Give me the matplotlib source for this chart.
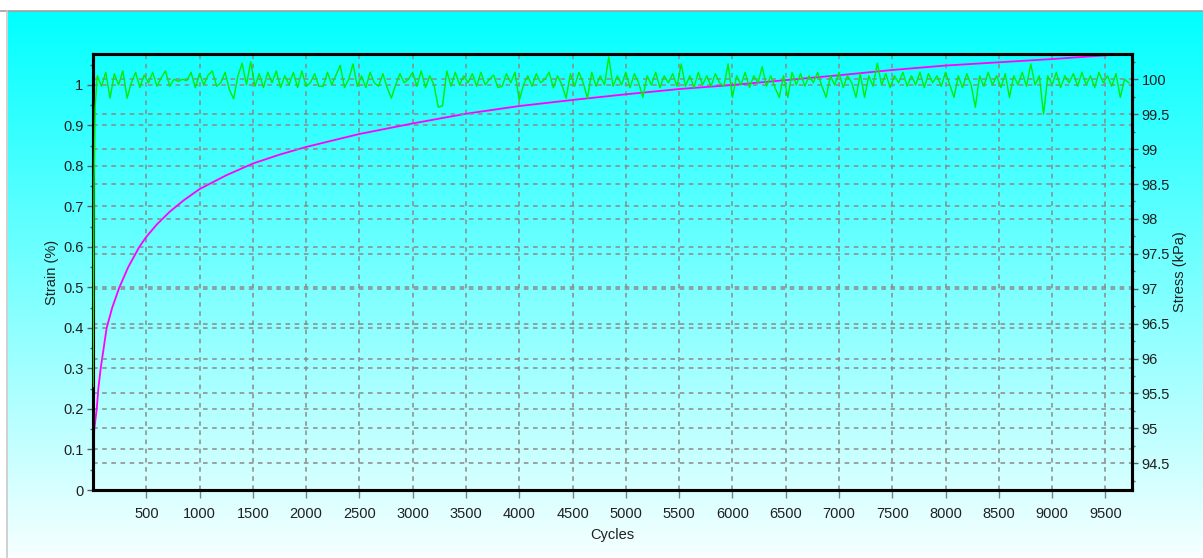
import numpy as np
import matplotlib
matplotlib.use("Agg")
import matplotlib.pyplot as plt
from matplotlib.ticker import MultipleLocator, FixedLocator
from matplotlib.lines import Line2D

# ---------------- data ----------------
strain_cycles = [1, 5, 12, 35, 50, 72, 100, 128, 180, 247, 330, 434, 500, 600, 720,
                 850, 1000, 1250, 1500, 1750, 2000, 2500, 3000, 3500, 4000, 4500,
                 5000, 5500, 6000, 6500, 7000, 7500, 8000, 8500, 9000, 9600]
strain_pct = [0.03, 0.10, 0.15, 0.20, 0.25, 0.30, 0.35, 0.40, 0.45, 0.50, 0.55, 0.60,
              0.625, 0.656, 0.687, 0.715, 0.743, 0.777, 0.806, 0.828, 0.847, 0.879,
              0.905, 0.929, 0.948, 0.963, 0.977, 0.990, 1.000, 1.012, 1.024, 1.037,
              1.048, 1.056, 1.064, 1.075]

stress_start_cycles = [1, 10, 20]
stress_start_kpa = [95.6, 98.55, 99.6]
stress_step = 40
stress_kpa = [
    100.05, 99.90, 100.10, 99.73, 100.08, 99.92, 100.12, 99.73, 99.95, 100.10,
    99.88, 100.06, 99.95, 100.10, 99.90, 100.02, 100.12, 99.90, 100.00, 99.97,
    100.00, 99.98, 100.10, 99.88, 100.08, 99.92, 100.06, 100.12, 99.90, 99.95,
    100.10, 99.85, 99.72, 100.05, 100.23, 99.92, 100.25, 99.90, 100.08, 99.88,
    100.10, 99.95, 100.12, 99.88, 100.05, 99.92, 100.10, 99.88, 100.12, 99.90,
    99.95, 100.08, 99.90, 99.90, 100.10, 99.92, 100.06, 100.20, 99.88, 100.00,
    100.22, 99.90, 100.05, 99.88, 100.10, 99.95, 99.90, 100.08, 99.88, 99.73,
    99.92, 100.08, 99.95, 100.00, 100.10, 99.90, 100.12, 99.88, 100.05, 99.92,
    99.60, 99.62, 100.12, 99.90, 100.10, 99.92, 100.05, 99.95, 100.08, 99.90,
    100.10, 99.92, 100.00, 100.06, 99.88, 99.90, 100.08, 99.95, 100.10, 99.70,
    99.92, 100.05, 99.90, 100.08, 99.95, 100.00, 100.10, 99.88, 100.05, 99.92,
    99.73, 100.08, 99.90, 100.10, 99.95, 99.73, 100.10, 99.90, 100.05, 99.92,
    100.32, 99.90, 100.05, 99.92, 100.10, 99.88, 100.08, 99.95, 99.74, 100.05,
    99.92, 100.10, 99.88, 100.05, 99.95, 100.08, 99.90, 100.22, 99.90, 100.05,
    99.88, 100.10, 99.92, 100.05, 99.90, 100.08, 99.95, 99.90, 100.22, 99.74,
    100.05, 99.92, 100.10, 99.88, 100.05, 99.95, 100.18, 99.90, 100.05, 99.88,
    99.74, 100.05, 99.74, 100.10, 99.92, 100.08, 99.90, 100.05, 99.95, 100.10,
    99.90, 99.74, 100.05, 99.92, 100.10, 99.88, 100.05, 99.95, 99.74, 100.08,
    99.74, 100.05, 99.90, 100.23, 99.92, 100.08, 99.88, 100.05, 99.95, 100.10,
    99.90, 100.05, 99.92, 100.10, 99.88, 100.08, 99.95, 100.05, 99.90, 100.10,
    99.92, 99.74, 100.05, 99.88, 100.08, 99.92, 99.60, 100.05, 99.90, 100.10,
    99.92, 100.05, 99.88, 100.08, 99.74, 100.05, 99.92, 100.10, 99.90, 100.22,
    99.92, 100.05, 99.50, 100.05, 99.92, 100.10, 99.88, 100.05, 99.95, 100.08,
    99.90, 100.10, 99.92, 100.05, 99.88, 100.10, 99.95, 100.05, 99.90, 100.08,
    99.74, 100.00, 99.95,
]
x_ticks = [500, 1000, 1500, 2000, 2500, 3000, 3500, 4000, 4500, 5000,
           5500, 6000, 6500, 7000, 7500, 8000, 8500, 9000, 9500]
left_ticks = [0, 0.1, 0.2, 0.3, 0.4, 0.5, 0.6, 0.7, 0.8, 0.9, 1]
right_ticks = [94.5, 95, 95.5, 96, 96.5, 97, 97.5, 98, 98.5, 99, 99.5, 100]

x_label = "Cycles"
left_label = "Strain (%)"
right_label = "Stress (kPa)"

# ---------------- style ----------------
plt.rcParams['font.family'] = ['Liberation Sans', 'DejaVu Sans']
W, H = 1203, 558
fig = plt.figure(figsize=(W / 100, H / 100), dpi=100, facecolor='white')

# background gradient (cyan -> near white)
bg = fig.add_axes([8 / W, 3 / H, 1 - 8 / W, (H - 11 - 3) / H], zorder=-10)
grad = np.linspace(0, 1, 256)[:, None]
r = 0 + 245 * grad
img = np.dstack([r, np.full_like(r, 255), np.full_like(r, 255)]) / 255.0
bg.imshow(img, aspect='auto', extent=[0, 1, 0, 1], origin='upper')
bg.set_axis_off()
fig.add_artist(Line2D([0, 1], [1 - 10.5 / H, 1 - 10.5 / H], color='#a0a0a0', lw=1.2,
                      transform=fig.transFigure))
fig.add_artist(Line2D([6.5 / W, 6.5 / W], [0, 1 - 10.5 / H], color='#c8c8c8', lw=1.2,
                      transform=fig.transFigure))

L, R, T, B = 93, 1132, 54, 490
ax = fig.add_axes([L / W, 1 - B / H, (R - L) / W, (B - T) / H])
ax.set_facecolor('none')
ax2 = ax.twinx()
ax2.set_facecolor('none')

grid_kw = dict(color='#8a8a8a', lw=1.1, ls=(0, (3, 3)))

ax.set_xlim(0, 9750)
ax.set_ylim(0, 1.0765)
ax2.set_ylim(94.118, 100.362)

ax.xaxis.set_major_locator(FixedLocator(x_ticks))
ax.yaxis.set_major_locator(FixedLocator(left_ticks))
ax.yaxis.set_minor_locator(MultipleLocator(0.05))
ax2.yaxis.set_major_locator(FixedLocator(right_ticks))
ax2.yaxis.set_minor_locator(MultipleLocator(0.25))

for v in x_ticks:
    ax.axvline(v, zorder=0.5, **grid_kw)
for v in left_ticks[1:]:
    ax.axhline(v, zorder=0.5, **grid_kw)
for v in right_ticks:
    ax2.axhline(v, zorder=0.5, **grid_kw)

ax.plot(strain_cycles, strain_pct, color='#ff00ff', lw=1.3, zorder=3, clip_on=True)

stress_cycles = stress_start_cycles + [stress_step * (i + 1) for i in range(len(stress_kpa))]
stress_vals = stress_start_kpa + stress_kpa
ax2.plot(stress_cycles, stress_vals, color='#00ee00', lw=1.0, zorder=3)

fs = 10.5
ax.tick_params(axis='x', direction='out', length=6, width=1, color='#808080',
               labelsize=fs, pad=6, labelcolor='#202020')
ax.tick_params(axis='y', which='major', direction='out', length=4, width=1,
               color='#606060', labelsize=fs, pad=3, labelcolor='#202020')
ax.tick_params(axis='y', which='minor', direction='out', length=2, width=1, color='#606060')
ax2.tick_params(axis='y', which='major', direction='out', length=4, width=1,
                color='#606060', labelsize=fs, pad=3, labelcolor='#202020')
ax2.tick_params(axis='y', which='minor', direction='out', length=2, width=1, color='#606060')

ax.yaxis.set_major_formatter(plt.FuncFormatter(lambda v, p: f"{v:g}"))
ax2.yaxis.set_major_formatter(plt.FuncFormatter(lambda v, p: f"{v:g}"))

for a in (ax, ax2):
    for s in a.spines.values():
        s.set_linewidth(2.2)
        s.set_color('black')

ax.set_xlabel(x_label, fontsize=fs, labelpad=5, color='#202020')
ax.set_ylabel(left_label, fontsize=fs, labelpad=3, color='#202020')
ax2.set_ylabel(right_label, fontsize=fs, labelpad=2, color='#202020')

fig.savefig("out.png", dpi=100, facecolor='white')
